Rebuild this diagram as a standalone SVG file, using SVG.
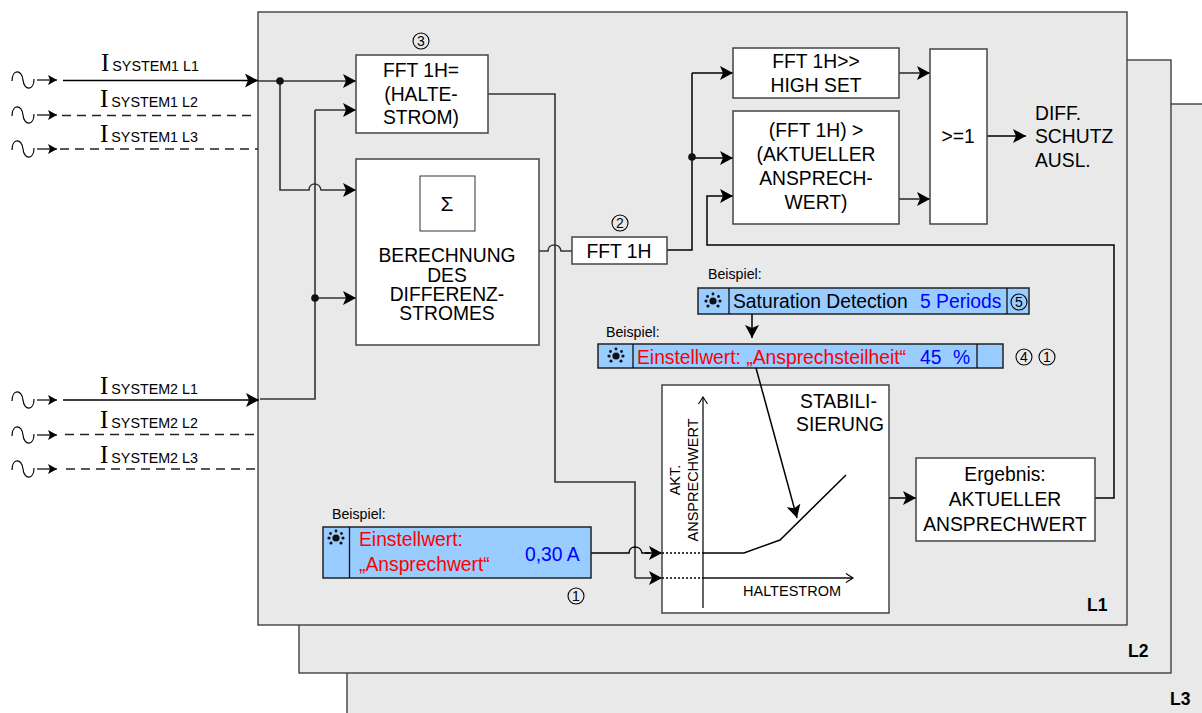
<svg xmlns="http://www.w3.org/2000/svg" width="1202" height="713" viewBox="0 0 1202 713">
<style>
text{font-family:"Liberation Sans",Arial,sans-serif;fill:#000}
.t{font-size:19.3px;text-anchor:middle;transform:translateY(1px)}
.m{font-size:19.3px;transform:translateY(1px)}
.sm{font-size:14.2px}
.sub{font-size:14.3px}
.big{font-family:"Liberation Serif",serif;font-size:25px}
.plate{fill:#e9e9e9;stroke:#333;stroke-width:1.3}
.box{fill:#fff;stroke:#444;stroke-width:1.5}
.blue{fill:#99ccff;stroke:#222;stroke-width:1.5}
.sep{stroke:#111;stroke-width:1.3;fill:none}
.w{fill:none;stroke:#333;stroke-width:1.6}
.k{fill:none;stroke:#000;stroke-width:1.5}
.d{fill:none;stroke:#222;stroke-width:1.3;stroke-dasharray:9 6}
.dot{fill:none;stroke:#000;stroke-width:1.3;stroke-dasharray:2 2}
.ar{marker-end:url(#a)}
.wave{fill:none;stroke:#000;stroke-width:1.2}
.c{fill:none;stroke:#000;stroke-width:1.1}
.n{font-size:14px;text-anchor:middle}
.ax{font-size:14.5px;text-anchor:middle}
.L{font-size:17.5px;font-weight:bold}
.red{fill:#ff0000}.bl{fill:#0000ff}
</style>
<defs>
<marker id="a" markerUnits="userSpaceOnUse" markerWidth="14" markerHeight="14" refX="13" refY="7" orient="auto"><path d="M0 0L13 7L0 14L3 7Z" fill="#000"/></marker>
<marker id="s" markerUnits="userSpaceOnUse" markerWidth="14" markerHeight="14" refX="12" refY="7" orient="auto"><path d="M3 2L12 7L3 12L5 7Z" fill="#000"/></marker>
<marker id="o" markerUnits="userSpaceOnUse" markerWidth="14" markerHeight="14" refX="11" refY="7" orient="auto"><path d="M4 2.500L11 7L4 11.500" fill="none" stroke="#000" stroke-width="1.1"/></marker>
<g id="sw"><path class="wave" d="M0 1C0-11 10-11 11 0C12 11 22 11 22-1"/><path d="M25 0H45" class="sep" marker-end="url(#s)"/></g>
<g id="sun" fill="#111"><circle r="3.600"/><circle cx="-7" r="1.600"/><circle cx="7" r="1.600"/><circle cx="-5.500" cy="-4.500" r="1.400"/><circle cx="5.500" cy="-4.500" r="1.400"/><circle cy="-7" r="1.400"/><circle cx="-5" cy="5" r="1.600"/><circle cx="5" cy="5" r="1.600"/></g>
</defs>

<g id="plates">
<rect id="plate-L3" class="plate" x="347" y="104" width="900" height="650"/>
<rect id="plate-L2" class="plate" x="299" y="60" width="872" height="613"/>
<rect id="plate-L1" class="plate" x="258" y="12" width="869" height="613"/>
<text class="L" x="1087" y="611">L1</text>
<text class="L" x="1128" y="657">L2</text>
<text class="L" x="1170" y="705">L3</text>
</g>

<g id="inputs">
<use href="#sw" x="12" y="80"/><use href="#sw" x="12" y="115"/><use href="#sw" x="12" y="149"/>
<use href="#sw" x="12" y="400"/><use href="#sw" x="12" y="435"/><use href="#sw" x="12" y="469"/>
<text x="101" y="71"><tspan class="big">I</tspan><tspan class="sub" dx="3">SYSTEM1 L1</tspan></text>
<text x="100" y="107"><tspan class="big">I</tspan><tspan class="sub" dx="3">SYSTEM1 L2</tspan></text>
<text x="100" y="142"><tspan class="big">I</tspan><tspan class="sub" dx="3">SYSTEM1 L3</tspan></text>
<text x="100" y="394"><tspan class="big">I</tspan><tspan class="sub" dx="3">SYSTEM2 L1</tspan></text>
<text x="100" y="428"><tspan class="big">I</tspan><tspan class="sub" dx="3">SYSTEM2 L2</tspan></text>
<text x="100" y="463"><tspan class="big">I</tspan><tspan class="sub" dx="3">SYSTEM2 L3</tspan></text>
</g>

<g id="connectors">
<path class="k ar" d="M63 80.500H258"/>
<path class="d" d="M62 115.500H253"/>
<path class="d" d="M60 149H258"/>
<path class="k ar" d="M63 400H259"/>
<path class="d" d="M65 434.500H258"/>
<path class="d" d="M66 469H258"/>
<path class="w ar" d="M258 81H356"/>
<path class="w ar" d="M280 81V190H309C309 182 320 182 321 190H356"/>
<path class="w" d="M260 399H315V110"/>
<path class="w ar" d="M315 110H356"/>
<path class="w ar" d="M315 298H356"/>
<path class="w" d="M488 94H555V482H635V578"/>
<path class="w ar" d="M635 578H662"/>
<path class="w" d="M539 251H548C548 243 560 243 561 251H572"/>
<path class="k" d="M667 250H692V73"/>
<path class="k ar" d="M692 73H733"/>
<path class="k ar" d="M692 158H733"/>
<path class="w ar" d="M899 73H930"/>
<path class="w ar" d="M899 199H930"/>
<path class="k ar" d="M987 136H1026"/>
<path class="k ar" d="M1095 498H1114V245H707V196H733"/>
<path class="k ar" d="M889 498H916"/>
<path class="k ar" d="M752 314V338"/>
<path class="k" d="M591 553H629C629 545 641 545 642 553H650"/>
<path class="k ar" d="M645 553H662"/>
<circle cx="280" cy="81" r="3.800" fill="#111"/>
<circle cx="315" cy="298" r="3.800" fill="#111"/>
<circle cx="692" cy="157" r="3.800" fill="#111"/>
</g>

<g id="node-fft-halte">
<rect class="box" x="356" y="55" width="132" height="78"/>
<text class="t" x="421" y="76">FFT 1H=</text><text class="t" x="421" y="100">(HALTE-</text><text class="t" x="421" y="123">STROM)</text>
<circle class="c" cx="421" cy="41" r="8"/><text class="n" x="421" y="46">3</text>
</g>
<g id="node-berechnung">
<rect class="box" x="356" y="159" width="183" height="186"/>
<rect x="420" y="176" width="55" height="55" fill="#fff" stroke="#333" stroke-width="1"/>
<text x="447" y="211" font-size="21" text-anchor="middle">Σ</text>
<text class="t" x="447" y="261">BERECHNUNG</text><text class="t" x="447" y="281">DES</text><text class="t" x="447" y="300">DIFFERENZ-</text><text class="t" x="447" y="319">STROMES</text>
</g>
<g id="node-fft1h">
<rect class="box" x="572" y="237" width="95" height="27"/>
<text class="t" x="619" y="257">FFT 1H</text>
<circle class="c" cx="620" cy="223" r="8"/><text class="n" x="620" y="228">2</text>
</g>
<g id="node-highset">
<rect class="box" x="733" y="48" width="166" height="50"/>
<text class="t" x="816" y="67">FFT 1H&gt;&gt;</text><text class="t" x="816" y="91">HIGH SET</text>
</g>
<g id="node-aktuell">
<rect class="box" x="733" y="111" width="166" height="113"/>
<text class="t" x="816" y="136">(FFT 1H) &gt;</text><text class="t" x="816" y="160">(AKTUELLER</text><text class="t" x="816" y="184">ANSPRECH-</text><text class="t" x="816" y="208">WERT)</text>
</g>
<g id="node-or">
<rect class="box" x="930" y="49" width="57" height="175"/>
<text class="t" x="958" y="142">&gt;=1</text>
</g>
<text id="label-diff" font-size="19.300"><tspan x="1035" y="120">DIFF.</tspan><tspan x="1035" y="143">SCHUTZ</tspan><tspan x="1035" y="167">AUSL.</tspan></text>

<g id="node-saturation">
<text class="sm" x="708" y="279">Beispiel:</text>
<rect class="blue" x="698" y="288" width="331" height="26"/>
<path class="sep" d="M729 288V314M1007 288V314"/>
<use href="#sun" x="713" y="301"/>
<text class="m" x="733" y="307">Saturation Detection</text>
<text class="m bl" x="920" y="307">5 Periods</text>
<circle class="c" cx="1019" cy="302" r="8"/><text class="n" x="1019" y="307">5</text>
</g>
<g id="node-stabilisierung">
<rect class="box" x="662" y="385" width="227" height="228"/>
<text class="t" x="838.500" y="407">STABILI-</text><text class="t" x="840" y="430">SIERUNG</text>
<path class="sep" d="M703 608V397" marker-end="url(#o)"/>
<path class="sep" d="M703 578H853" marker-end="url(#o)"/>
<path class="dot" d="M662 553H703M662 578H703"/>
<path class="k" d="M703 553H744L780 540L846 475"/>
<text class="ax" transform="translate(680 480) rotate(-90)">AKT.</text>
<text class="ax" transform="translate(698 480) rotate(-90)">ANSPRECHWERT</text>
<text class="ax" x="792" y="596">HALTESTROM</text>
</g>
<g id="node-steilheit">
<text class="sm" x="606" y="337">Beispiel:</text>
<rect class="blue" x="598" y="344" width="405" height="24"/>
<path class="sep" d="M633 344V368M977 344V368"/>
<use href="#sun" x="616" y="356"/>
<text class="m red" x="637" y="363">Einstellwert: „Ansprechsteilheit“</text>
<text class="m bl" x="920" y="363">45</text>
<text class="m bl" x="953" y="363">%</text>
<circle class="c" cx="1024" cy="357" r="8"/><text class="n" x="1024" y="362">4</text>
<circle class="c" cx="1047" cy="357" r="8"/><text class="n" x="1047" y="362">1</text>
</g>
<path id="connector-steilheit" class="k ar" d="M756 368L797 518"/>
<g id="node-ergebnis">
<rect class="box" x="916" y="458" width="179" height="83"/>
<text class="t" x="1005" y="480">Ergebnis:</text><text class="t" x="1005" y="505">AKTUELLER</text><text class="t" x="1005" y="530">ANSPRECHWERT</text>
</g>
<g id="node-einstellwert">
<text class="sm" x="332" y="519">Beispiel:</text>
<rect class="blue" x="323" y="527" width="268" height="51"/>
<path class="sep" d="M349.500 527V578"/>
<use href="#sun" x="336" y="538"/>
<text class="m red" x="359" y="545">Einstellwert:</text>
<text class="m red" x="359" y="570">„Ansprechwert“</text>
<text class="m bl" x="525" y="560">0,30 A</text>
<circle class="c" cx="576" cy="596" r="8"/><text class="n" x="576" y="601">1</text>
</g>
</svg>
